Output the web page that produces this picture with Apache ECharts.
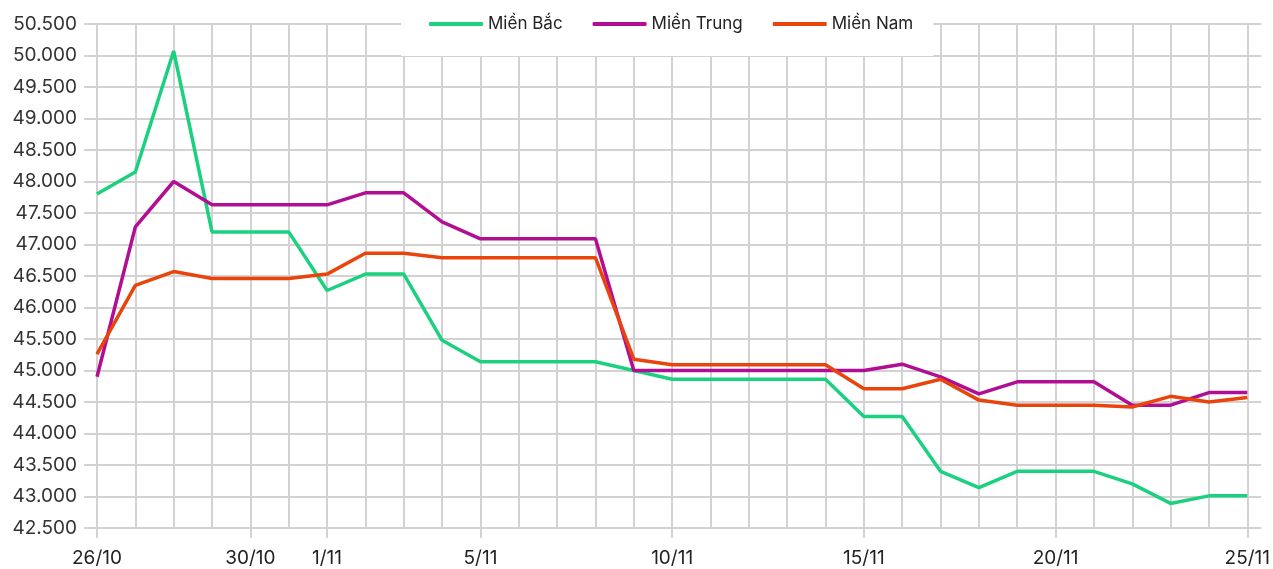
<!DOCTYPE html>
<html>
<head>
<meta charset="utf-8">
<script src="https://cdn.jsdelivr.net/npm/echarts@6/dist/echarts.min.js"></script>
<style>
  html, body { margin: 0; padding: 0; background: #fff; }
  #main { width: 1273px; height: 569px; }
</style>
</head>
<body>
<div id="main"></div>
<script>
// ngày (26/10 -> 25/11)
var days = ['26/10', '27/10', '28/10', '29/10', '30/10', '31/10',
  '1/11', '2/11', '3/11', '4/11', '5/11', '6/11', '7/11', '8/11', '9/11', '10/11',
  '11/11', '12/11', '13/11', '14/11', '15/11', '16/11', '17/11', '18/11', '19/11', '20/11',
  '21/11', '22/11', '23/11', '24/11', '25/11'];

// nhãn trục x được hiển thị
var shownDays = ['26/10', '30/10', '1/11', '5/11', '10/11', '15/11', '20/11', '25/11'];

var mienBac = [47800, 48150, 50070, 47200, 47200, 47200, 46270, 46530, 46530, 45480,
  45140, 45140, 45140, 45140, 45000, 44860, 44860, 44860, 44860, 44860,
  44270, 44270, 43400, 43140, 43400, 43400, 43400, 43200, 42890, 43010, 43010];

var mienTrung = [44900, 47280, 48000, 47630, 47630, 47630, 47630, 47820, 47820, 47360,
  47090, 47090, 47090, 47090, 45000, 45000, 45000, 45000, 45000, 45000,
  45000, 45100, 44900, 44630, 44820, 44820, 44820, 44450, 44450, 44650, 44650];

var mienNam = [45260, 46350, 46570, 46460, 46460, 46460, 46530, 46860, 46860, 46790,
  46790, 46790, 46790, 46790, 45180, 45090, 45090, 45090, 45090, 45090,
  44710, 44710, 44860, 44530, 44450, 44450, 44450, 44420, 44590, 44500, 44570];

var yMin = 42500;
var yMax = 50500;
var yStep = 500;

var gridColor = '#d2d2d2';
var font = 'Inter, "Noto Sans", sans-serif';

function isShown(idx) {
  return shownDays.indexOf(days[idx]) >= 0;
}

var chart = echarts.init(document.getElementById('main'));

var option = {
  backgroundColor: '#fff',
  animation: false,
  color: ['#1bd17f', '#b10e94', '#e8440c'],
  legend: {
    left: 401,
    top: 0,
    padding: [14, 20, 22, 28],
    backgroundColor: '#fff',
    icon: 'roundRect',
    itemWidth: 54,
    itemHeight: 4,
    itemGap: 30,
    z: 10,
    textStyle: {
      fontFamily: font,
      fontSize: 17,
      lineHeight: 20,
      color: '#222'
    },
    data: ['Miền Bắc', 'Miền Trung', 'Miền Nam']
  },
  grid: {
    left: 97,
    right: 24,
    top: 24,
    bottom: 41,
    containLabel: false
  },
  xAxis: {
    type: 'category',
    boundaryGap: false,
    data: days,
    axisLine: { show: false },
    axisTick: {
      show: true,
      length: 10,
      interval: function (idx) { return isShown(idx); },
      lineStyle: { color: gridColor, width: 2 }
    },
    axisLabel: {
      interval: function (idx) { return isShown(idx); },
      margin: 21,
      fontFamily: font,
      fontSize: 19,
      color: '#222'
    },
    splitLine: {
      show: true,
      interval: 0,
      lineStyle: { color: gridColor, width: 2 }
    }
  },
  yAxis: [{
    type: 'value',
    min: yMin,
    max: yMax,
    interval: yStep,
    axisLine: { show: false },
    axisTick: {
      show: true,
      length: 13,
      lineStyle: { color: gridColor, width: 2 }
    },
    axisLabel: {
      margin: 20,
      fontFamily: font,
      fontSize: 19,
      color: '#333',
      formatter: function (v) { return (v / 1000).toFixed(3); }
    },
    splitLine: {
      show: true,
      lineStyle: { color: gridColor, width: 2 }
    }
  }, {
    type: 'value',
    position: 'right',
    min: yMin,
    max: yMax,
    interval: yStep,
    axisLine: { show: false },
    axisTick: {
      show: true,
      length: 14,
      lineStyle: { color: gridColor, width: 2 }
    },
    axisLabel: { show: false },
    splitLine: { show: false }
  }],
  series: [{
    name: 'Miền Bắc',
    type: 'line',
    symbol: 'none',
    data: mienBac,
    lineStyle: { width: 3.5 }
  }, {
    name: 'Miền Trung',
    type: 'line',
    symbol: 'none',
    data: mienTrung,
    lineStyle: { width: 3.5 }
  }, {
    name: 'Miền Nam',
    type: 'line',
    symbol: 'none',
    data: mienNam,
    lineStyle: { width: 3.5 }
  }]
};

chart.setOption(option);
</script>
</body>
</html>
